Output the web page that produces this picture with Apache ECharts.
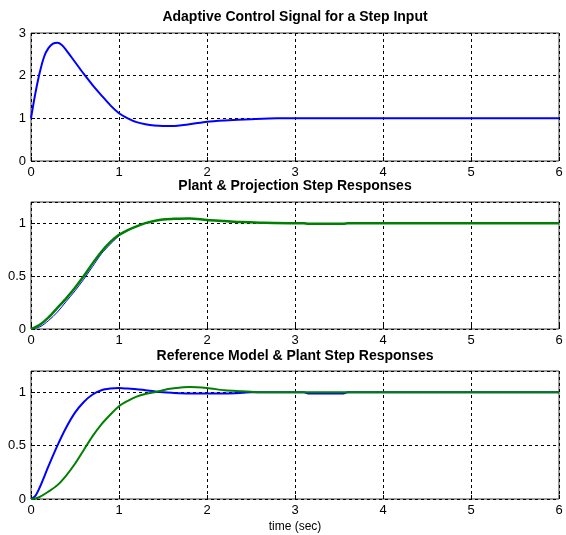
<!DOCTYPE html>
<html>
<head>
<meta charset="utf-8">
<script src="https://cdn.jsdelivr.net/npm/echarts@6/dist/echarts.min.js"></script>
<style>
html,body{margin:0;padding:0;background:#fff;}
#chart{width:566px;height:535px;}
</style>
</head>
<body>
<div id="chart"></div>
<script>
// ---- Data ----
const titles = [
  "Adaptive Control Signal for a Step Input",
  "Plant & Projection Step Responses",
  "Reference Model & Plant Step Responses"
];
const xLabel = "time (sec)";

// Panel 1: adaptive control signal
const t1 = [0,0.05,0.1,0.15,0.2,0.25,0.3,0.35,0.4,0.5,0.6,0.7,0.8,0.9,1.0,1.1,1.2,1.3,1.4,1.5,1.6,1.8,2.0,2.2,2.5,2.8,3,4,5,6];
const u1 = [1,1.59,2.08,2.45,2.65,2.75,2.77,2.72,2.6,2.32,2.04,1.78,1.54,1.31,1.12,1.0,0.91,0.86,0.83,0.82,0.82,0.86,0.92,0.95,0.98,1.0,1.0,1.0,1.0,1.0];

// Panel 2: plant (blue) & projection (green)
const t2 = [0,0.1,0.2,0.3,0.4,0.5,0.6,0.7,0.8,0.9,1.0,1.1,1.2,1.3,1.4,1.5,1.6,1.8,2.0,2.2,2.4,2.6,3.0,3.1,3.15,3.55,3.6,4,5,6];
const plant2 = [0,0.02,0.08,0.16,0.26,0.36,0.47,0.59,0.71,0.80,0.88,0.93,0.97,1.0,1.02,1.035,1.04,1.045,1.03,1.02,1.01,1.005,1.0,1.0,0.993,0.993,1.0,1.0,1.0,1.0];
const proj2  = [0,0.04,0.11,0.2,0.29,0.39,0.5,0.62,0.73,0.82,0.89,0.935,0.97,1.0,1.02,1.035,1.04,1.045,1.03,1.02,1.01,1.005,1.0,1.0,0.995,0.995,1.0,1.0,1.0,1.0];

// Panel 3: reference model (blue) & plant (green)
const t3 = [0,0.05,0.1,0.2,0.3,0.4,0.5,0.6,0.7,0.8,0.9,1.0,1.1,1.2,1.3,1.4,1.5,1.6,1.8,2.0,2.2,2.4,2.5,2.6,3.0,3.1,3.15,3.55,3.6,4,5,6];
const model3 = [0,0.03,0.11,0.31,0.5,0.67,0.81,0.91,0.98,1.02,1.035,1.04,1.035,1.03,1.02,1.01,1.0,0.995,0.99,0.99,0.99,0.995,1.0,1.0,1.0,1.0,0.99,0.99,1.0,1.0,1.0,1.0];
const plant3 = [0,0.005,0.02,0.07,0.13,0.22,0.33,0.46,0.59,0.70,0.79,0.87,0.92,0.96,0.985,1.0,1.02,1.035,1.05,1.04,1.02,1.01,1.005,1.0,1.0,1.0,1.0,1.0,1.0,1.0,1.0,1.0];

const yRanges = [[0,3,1],[0,1.2,0.5],[0,1.2,0.5]];

// ---- Build ----
function pairs(t, y){ return t.map((v,i)=>[v,y[i]]); }

const gridTops = [33, 202, 371];
const gridHeights = [128, 127, 128];
const font = "Arial, 'Liberation Sans', sans-serif";

const grids = gridTops.map((top,i)=>({
  left:31, top:top, width:528, height:gridHeights[i],
  show:true, borderColor:'#3a3a3a', borderWidth:1, backgroundColor:'#fff'
}));

const xAxes = gridTops.map((_,i)=>({
  type:'value', gridIndex:i, min:0, max:6, interval:1,
  axisLine:{show:false},
  axisTick:{show:true, inside:true, length:4, lineStyle:{color:'#000'}},
  axisLabel:{color:'#000', fontSize:13, fontFamily:font, margin:5},
  splitLine:{show:true, lineStyle:{color:'#000', type:[3,3], width:1}},
  name: i===2 ? xLabel : '',
  nameLocation:'middle', nameGap:22,
  nameTextStyle:{color:'#000', fontSize:12, fontFamily:font}
}));

const yAxes = yRanges.map((r,i)=>({
  type:'value', gridIndex:i, min:r[0], max:r[1], interval:r[2],
  axisLine:{show:false},
  axisTick:{show:true, inside:true, length:4, lineStyle:{color:'#000'}},
  axisLabel:{color:'#000', fontSize:13, fontFamily:font, margin:5, showMaxLabel: i===0,
    formatter: v => (i>0 && v>1.1) ? '' : String(v)},
  splitLine:{show:true, lineStyle:{color:'#000', type:[3,3], width:1}}
}));

const mk = (xi, t, y, color, width) => ({
  type:'line', xAxisIndex:xi, yAxisIndex:xi, data:pairs(t,y), showSymbol:false, smooth:0.3,
  lineStyle:{color:color, width:width}, itemStyle:{color:color}
});

const series = [
  mk(0, t1, u1, '#0000ff', 2),
  mk(1, t2, plant2, '#0000ff', 1),
  mk(1, t2, proj2, '#008000', 2.5),
  mk(2, t3, model3, '#0000ff', 2),
  mk(2, t3, plant3, '#008000', 2)
];

const titleY = [17, 186, 356];
const graphic = titles.map((txt,i)=>({
  type:'text', x:295, y:titleY[i],
  style:{text:txt, fill:'#000', font:"bold 14px " + font, align:'center', verticalAlign:'middle'}
}));

const chart = echarts.init(document.getElementById('chart'), null, {renderer:'canvas'});
chart.setOption({
  backgroundColor:'#fff',
  animation:false,
  grid:grids, xAxis:xAxes, yAxis:yAxes, series:series, graphic:graphic
});
</script>
</body>
</html>
